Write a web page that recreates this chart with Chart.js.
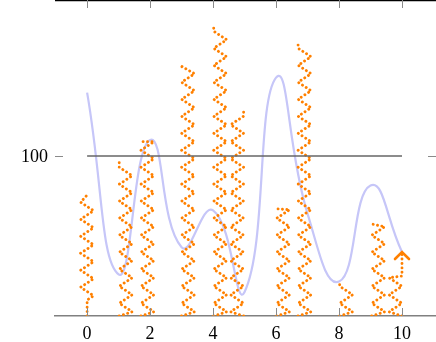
<!DOCTYPE html>
<html lang="en">
<head>
<meta charset="UTF-8">
<title>Zigzag combs</title>
<script src="https://cdn.jsdelivr.net/npm/chart.js"></script>
<style>
  body { margin: 0; background: #fff; }
  #wrap { width: 436px; height: 342px; }
</style>
</head>
<body>
<div id="wrap"><canvas id="chart"></canvas></div>
<script>
// values
const xTicks = [0, 2, 4, 6, 8, 10];
const yTicks = [100];
const combX = [0, 1.02, 1.71, 3, 4.02, 4.97, 6.02, 6.7, 8.02, 9.04, 10];
const combY = [75.6, 98, 109, 156, 182, 129, 67, 171, 21, 57.5, 40];
const curveX = [0, 1, 2, 3, 4, 5, 6, 7, 8, 9, 10];
const curveY = [139.6, 26, 110, 43, 66, 15, 149, 64, 21.5, 81.5, 40];
const refX = [0, 10];
const refY = [100, 100];

const FONT = { family: '"Liberation Serif", "DejaVu Serif", serif', size: 18 };

function zip(xs, ys) {
    return xs.map((x, i) => ({ x: x, y: ys[i] }));
}

// draws one dotted zigzag comb from the base up to the top
function drawZigzag(ctx, bx, y0, y1, side, arrow) {
    const w = 13, h = 8.5;
    const L = side === 0 ? bx - w / 2 : (side > 0 ? bx : bx - w);
    const R = L + w;
    const startStub = side === 0 ? 16 : 0;
    const endStub = arrow ? 24 : 0;
    const stop = y1 + endStub;

    ctx.beginPath();
    ctx.moveTo(bx, y0);
    let y = y0 - startStub;
    if (startStub) ctx.lineTo(bx, y);
    let right = side >= 0;
    y -= h / 2;
    while (y > stop) {
        ctx.lineTo(right ? R : L, y);
        right = !right;
        y -= h;
    }
    ctx.lineTo(bx, stop);
    if (endStub) ctx.lineTo(bx, y1);
    ctx.stroke();

    if (arrow) {
        ctx.setLineDash([]);
        ctx.lineCap = 'round';
        ctx.lineJoin = 'miter';
        ctx.lineWidth = 2.6;
        ctx.beginPath();
        ctx.moveTo(bx - 7, y1 + 7);
        ctx.lineTo(bx, y1);
        ctx.lineTo(bx + 7, y1 + 7);
        ctx.stroke();
    }
}

const zigzagPlugin = {
    id: 'zigzag',
    afterDatasetDraw(chart, args, opts) {
        if (args.index !== 1) return;
        const ctx = chart.ctx;
        const yBase = chart.scales.y.getPixelForValue(0);
        const area = chart.chartArea;
        ctx.save();
        ctx.beginPath();
        ctx.rect(area.left, area.top - 2, area.right - area.left, area.bottom - area.top + 2);
        ctx.clip();
        args.meta.data.forEach((bar, i) => {
            ctx.strokeStyle = opts.color;
            ctx.lineWidth = 2.9;
            ctx.lineCap = 'round';
            ctx.lineJoin = 'round';
            ctx.setLineDash([0.01, 4.4]);
            drawZigzag(ctx, bar.x, yBase, bar.y, opts.sides[i], i === args.meta.data.length - 1);
        });
        ctx.restore();
    }
};

const framePlugin = {
    id: 'frame',
    afterDraw(chart) {
        const ctx = chart.ctx;
        const a = chart.chartArea;
        const xs = chart.scales.x, ys = chart.scales.y;
        ctx.save();
        // top axis line
        ctx.strokeStyle = '#000';
        ctx.lineWidth = 1.5;
        ctx.beginPath();
        ctx.moveTo(a.left, a.top + 0.5);
        ctx.lineTo(a.right, a.top + 0.5);
        ctx.stroke();

        // inward tick marks
        ctx.strokeStyle = '#8a8a8a';
        ctx.lineWidth = 1;
        xTicks.forEach(v => {
            const px = Math.round(xs.getPixelForValue(v)) + 0.5;
            ctx.beginPath();
            ctx.moveTo(px, a.top);
            ctx.lineTo(px, a.top + 8);
            ctx.moveTo(px, a.bottom);
            ctx.lineTo(px, a.bottom - 8);
            ctx.stroke();
        });
        yTicks.forEach(v => {
            const py = Math.round(ys.getPixelForValue(v)) + 0.5;
            ctx.beginPath();
            ctx.moveTo(a.left, py);
            ctx.lineTo(a.left + 8, py);
            ctx.moveTo(a.right, py);
            ctx.lineTo(a.right - 8, py);
            ctx.stroke();

            ctx.fillStyle = '#000';
            ctx.font = FONT.size + 'px ' + FONT.family;
            ctx.textAlign = 'right';
            ctx.textBaseline = 'middle';
            ctx.fillText(String(v), a.left - 7, py + 1);
        });
        ctx.restore();
    }
};

new Chart(document.getElementById('chart'), {
    type: 'bar',
    data: {
        datasets: [{
            type: 'line',
            data: zip(curveX, curveY),
            borderColor: '#c6c6f8',
            borderWidth: 2.2,
            tension: 0.5,
            pointRadius: 0,
            order: 3
        }, {
            type: 'bar',
            data: zip(combX, combY),
            backgroundColor: 'rgba(0,0,0,0)',
            borderWidth: 0,
            order: 2
        }, {
            type: 'line',
            data: zip(refX, refY),
            borderColor: '#666',
            borderWidth: 1.3,
            pointRadius: 0,
            order: 1
        }]
    },
    options: {
        responsive: true,
        maintainAspectRatio: false,
        animation: false,
        layout: { padding: { left: 55, top: 0, right: 0, bottom: 0 } },
        scales: {
            x: {
                type: 'linear',
                offset: false,
                min: -1.02,
                max: 11.08,
                afterBuildTicks: s => { s.ticks = xTicks.map(v => ({ value: v })); },
                afterFit: s => { s.height = 26; },
                grid: { display: false, offset: false },
                border: { color: '#808080', width: 1.5 },
                ticks: { font: FONT, color: '#000', padding: -1, maxRotation: 0, autoSkip: false }
            },
            y: {
                display: false,
                min: 0,
                max: 197.5
            }
        },
        plugins: {
            legend: { display: false },
            tooltip: { enabled: false },
            zigzag: { color: '#ff8000', sides: [0, 1, 1, 1, 1, -1, 1, 1, 1, 1, -1] }
        }
    },
    plugins: [zigzagPlugin, framePlugin]
});
</script>
</body>
</html>
